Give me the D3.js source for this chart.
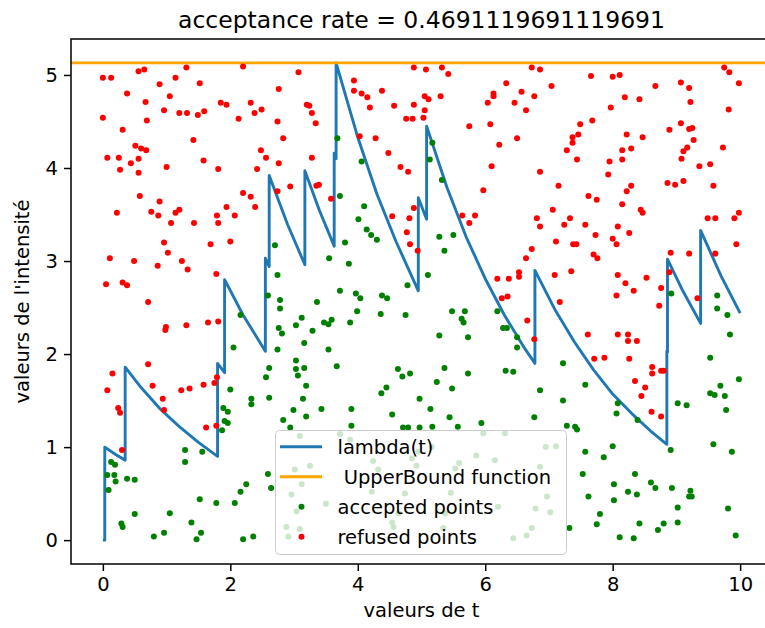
<!DOCTYPE html>
<html>
<head>
<meta charset="utf-8">
<script src="https://cdn.jsdelivr.net/npm/d3@7"></script>
<style>
  body { margin: 0; background: #fff; }
  text { font-family: "DejaVu Sans", sans-serif; fill: #000; }
</style>
</head>
<body>
<script>
// intensity lambda(t) (vertical jumps = repeated t)
var lamT = [0, 0.03, 0.03, 0.2, 0.35, 0.35, 0.6, 0.9, 1.2, 1.5, 1.8, 1.8, 1.91, 1.91, 2.2, 2.55, 2.55, 2.61, 2.61,
            2.9, 3.17, 3.17, 3.4, 3.63, 3.63, 3.66, 3.66, 4.0, 4.3, 4.6, 4.95, 4.95, 5.08, 5.08, 5.4, 5.7, 6.0,
            6.3, 6.6, 6.78, 6.78, 7.1, 7.4, 7.7, 8.0, 8.3, 8.6, 8.85, 8.85, 8.86, 8.86, 9.1, 9.38, 9.38, 9.7, 10];
var lamV = [0, 0, 1.0, 0.92, 0.86, 1.86, 1.64, 1.41, 1.22, 1.05, 0.90, 1.90, 1.80, 2.80, 2.42, 2.03, 3.03, 2.94, 3.92,
            3.39, 2.96, 3.97, 3.54, 3.16, 4.16, 4.10, 5.13, 4.33, 3.72, 3.21, 2.68, 3.68, 3.45, 4.45, 3.79, 3.26, 2.81,
            2.42, 2.08, 1.90, 2.90, 2.47, 2.13, 1.83, 1.57, 1.36, 1.17, 1.03, 2.03, 2.02, 3.02, 2.68, 2.33, 3.33, 2.84, 2.44];

var upperBound = 5.13;
var acceptanceRate = 0.4691119691119691;

var xTicks = [0, 2, 4, 6, 8, 10];
var yTicks = [0, 1, 2, 3, 4, 5];

// accepted points [t, value]
var acceptedPoints = [
  [3.68,4.32],[4.06,4.07],[3.72,3.70],[4.10,3.59],[4.01,3.45],
  [5.17,4.27],[5.13,4.09],[5.32,3.87],
  [2.16,2.42],[2.05,2.07],
  [2.70,3.17],[4.14,3.34],[4.21,3.28],[4.30,3.23],[3.80,3.20],[3.55,3.03],[3.86,2.97],[2.74,2.85],[4.78,2.74],
  [2.59,2.63],[3.72,2.68],[3.97,2.65],[4.04,2.60],[4.38,2.63],[4.46,2.60],[2.78,2.58],[2.78,2.49],[3.36,2.56],
  [3.99,2.46],[4.36,2.43],[4.75,2.42],[3.12,2.39],[3.03,2.31],[3.59,2.37],[3.47,2.34],[3.54,2.32],[3.88,2.34],
  [2.76,2.28],[2.81,2.22],[3.29,2.25],[3.16,2.12],[2.74,2.05],[3.54,2.05],[3.03,1.93],[3.03,1.84],[3.16,1.85],
  [3.06,1.77],[2.61,1.85],[2.56,1.75],[3.67,1.87],[4.63,1.84],[4.70,1.76],[4.82,1.79],[3.19,1.66],[4.45,1.64],
  [5.28,3.26],[5.50,3.28],[5.36,3.11],[5.10,2.85],[5.48,2.46],[5.68,2.46],[5.63,2.38],[5.66,2.34],[6.19,2.46],
  [5.28,2.20],[5.73,2.18],[6.28,2.28],[6.34,2.28],[6.50,2.18],[6.50,2.07],[5.36,1.85],[5.73,1.79],[6.32,1.82],
  [6.44,1.81],[7.22,1.90],[5.24,1.70],[5.48,1.63],[7.57,1.67],
  [8.92,2.65],[9.64,2.63],[9.64,2.49],[9.80,2.42],[9.84,2.21],[9.53,1.96],[9.69,1.66],[9.98,1.73],
  [2.00,1.62],[2.33,1.52],[2.33,1.46],[1.89,1.42],[1.96,1.38],[1.91,1.28],[1.96,1.26],[1.87,1.18],[1.29,0.97],
  [1.29,0.84],[1.56,0.95],[0.13,0.84],[0.19,0.81],[0.07,0.70],[0.18,0.70],[0.20,0.63],[0.38,0.66],[0.50,0.65],
  [0.09,0.54],[2.25,0.60],[2.16,0.52],[1.52,0.44],[1.78,0.40],[2.07,0.40],[0.50,0.28],[1.05,0.29],[0.29,0.18],
  [0.31,0.14],[1.39,0.19],[0.96,0.08],[0.80,0.04],[1.54,0.08],[1.47,0.01],[2.20,0.01],[2.36,0.04],
  [4.37,1.58],[2.61,1.53],[3.14,1.52],[4.97,1.52],[2.99,1.40],[3.43,1.41],[3.90,1.41],[3.19,1.33],[2.83,1.29],
  [4.54,1.35],[2.94,1.21],[3.90,1.23],[4.71,1.21],[4.79,1.21],[4.97,1.21],[2.59,0.71],[2.64,0.56],
  [3.09,1.12],[3.72,1.14],[3.88,1.08],[4.24,0.85],[4.32,0.76],[4.85,0.88],[4.92,0.80],[3.01,0.76],[3.25,0.80],
  [3.12,0.60],[2.96,0.49],[3.50,0.39],[3.04,0.31],[4.22,0.52],[4.74,0.50],[4.64,0.29],[4.54,0.19],[4.56,0.14],
  [2.88,0.14],[2.91,0.04],[3.09,0.12],[4.95,0.95],
  [6.86,1.61],[7.22,1.50],[5.14,1.41],[5.44,1.32],[5.94,1.26],[6.77,1.32],[5.17,1.22],[5.57,1.22],[7.28,1.23],
  [7.41,1.22],[7.44,1.19],[7.57,0.95],[7.53,0.71],[7.62,0.47],[7.32,0.13],
  [5.97,1.15],[6.31,1.15],[6.95,1.00],[7.11,1.01],[5.16,1.00],[5.86,0.91],[6.15,0.86],[5.59,0.83],[5.53,0.77],
  [6.86,0.79],[5.46,0.51],[6.97,0.47],[6.20,0.36],[6.79,0.34],[7.02,0.30],[5.37,0.29],[6.73,0.13],[6.65,0.05],
  [6.44,0.02],[5.34,0.13],
  [9.53,1.58],[9.60,1.56],[9.76,1.55],[9.02,1.47],[9.16,1.45],[9.78,1.40],[8.08,1.47],[8.06,1.36],[8.39,1.29],
  [8.91,0.97],[9.58,1.03],[9.87,0.95],[8.00,1.01],[7.86,0.89],[8.35,0.71],[8.02,0.60],[8.60,0.62],[8.67,0.56],
  [8.24,0.52],[8.38,0.49],[8.93,0.56],[9.22,0.53],[9.20,0.47],[9.24,0.47],[8.02,0.43],[9.02,0.35],[9.81,0.34],
  [7.80,0.28],[7.75,0.17],[8.42,0.18],[8.80,0.18],[8.71,0.11],[9.02,0.19],[8.11,0.03],[8.33,0.02],[9.93,0.05]
];

// refused points [t, value]
var refusedPoints = [
  [0.00,4.97],[0.13,4.97],[0.56,5.04],[0.65,5.06],[1.31,5.08],[2.20,5.09],[0.89,4.90],[1.14,4.97],[1.52,4.91],
  [0.38,4.80],[1.05,4.77],[0.67,4.71],[1.85,4.70],[1.94,4.68],[2.32,4.70],[0.00,4.54],[0.96,4.62],[1.20,4.59],
  [1.32,4.59],[1.49,4.57],[1.59,4.61],[0.69,4.51],[2.13,4.53],[2.38,4.59],[0.31,4.41],[1.42,4.30],[0.51,4.24],
  [0.60,4.21],[0.68,4.19],[0.07,4.11],[0.25,4.11],[0.56,4.10],[0.44,4.05],[0.27,3.98],[1.58,4.08],[1.00,4.01],
  [0.56,3.95],[1.81,3.99],[2.42,3.99],[0.58,3.70],[0.89,3.64],[0.22,3.52],[0.76,3.53],[0.87,3.49],[1.14,3.52],
  [1.20,3.55],[2.20,3.73],[2.32,3.69],[1.94,3.58],[1.79,3.49],[2.07,3.49],[2.39,3.58],
  [3.07,5.03],[4.88,5.08],[5.07,5.06],[2.76,4.85],[3.94,4.94],[3.94,4.83],[4.06,4.80],[4.15,4.76],[4.38,4.83],
  [2.49,4.63],[3.20,4.68],[3.24,4.67],[3.28,4.59],[3.34,4.48],[2.74,4.50],[4.19,4.65],[4.57,4.67],[4.88,4.68],
  [4.76,4.53],[4.86,4.53],[2.83,4.32],[4.03,4.34],[4.28,4.32],[2.48,4.19],[2.56,4.11],[2.76,4.05],[3.28,4.11],
  [4.48,4.16],[4.67,4.01],[4.79,3.96],[2.94,3.80],[2.74,3.75],[3.35,3.81],[3.39,3.82],[3.58,3.67],[4.88,3.57],
  [4.54,3.48],[4.81,3.46],
  [5.32,5.08],[5.42,5.01],[6.73,5.08],[6.86,5.06],[6.33,4.91],[7.04,4.88],[5.05,4.77],[5.11,4.74],[5.30,4.77],
  [6.13,4.80],[6.13,4.77],[6.57,4.82],[6.77,4.77],[6.04,4.70],[6.46,4.70],[6.64,4.62],[5.05,4.62],[5.03,4.54],
  [5.75,4.45],[6.08,4.47],[7.49,4.47],[6.22,4.25],[6.50,4.32],[7.37,4.33],[7.46,4.36],[7.37,4.27],[7.28,4.19],
  [7.44,4.09],[6.10,4.02],[6.86,3.96],[5.97,3.76],[7.15,3.81],[7.62,3.70],[7.06,3.55],[5.64,3.49],[5.84,3.49],
  [6.81,3.46],[7.33,3.46],
  [9.75,5.08],[9.83,5.03],[9.98,4.91],[7.66,4.99],[8.00,4.98],[8.11,5.00],[8.67,4.88],[9.07,4.92],[9.20,4.86],
  [8.19,4.76],[8.42,4.74],[9.22,4.71],[7.97,4.65],[9.82,4.63],[7.68,4.51],[9.07,4.48],[8.89,4.41],[9.20,4.42],
  [9.25,4.43],[8.22,4.36],[8.47,4.33],[9.27,4.30],[8.15,4.19],[8.29,4.21],[9.17,4.22],[9.11,4.18],[9.73,4.22],
  [7.95,4.07],[8.15,4.09],[9.08,4.10],[9.36,4.02],[9.53,4.04],[7.93,3.93],[8.86,3.84],[8.98,3.82],[9.11,3.86],
  [9.58,3.81],[8.29,3.81],[8.22,3.75],[7.75,3.66],[8.15,3.61],[8.44,3.55],[8.47,3.52],[9.98,3.52],[9.91,3.46],
  [9.49,3.46],[9.61,3.46],
  [1.07,3.41],[1.43,3.41],[1.81,3.41],[0.96,3.20],[1.69,3.18],[2.00,3.21],[0.11,3.03],[0.49,3.00],[1.02,3.09],
  [0.86,2.95],[1.24,3.00],[1.33,2.91],[1.78,2.86],[0.05,2.75],[0.31,2.77],[0.38,2.74],[0.71,2.56],[0.99,2.29],
  [0.98,2.26],[1.31,2.31],[1.65,2.34],[1.81,2.35],[0.71,1.89],[0.15,1.79],[0.78,1.66],[1.58,1.67],[1.75,1.69],
  [1.79,1.75],
  [4.77,3.31],[4.82,3.18],[4.94,3.11],
  [5.75,3.41],[6.86,3.37],[7.24,3.39],[7.57,3.39],[7.11,3.21],[7.38,3.18],[7.43,3.18],[6.73,3.13],[6.64,3.03],
  [6.53,2.88],[6.53,2.83],[6.19,2.81],[6.37,2.81],[7.09,2.85],[7.35,2.89],[6.26,2.60],[6.35,2.62],[7.17,2.56],
  [6.66,2.36],[6.77,2.16],[7.61,2.21],
  [8.08,3.37],[8.26,3.30],[7.73,3.28],[8.00,3.24],[8.06,3.18],[9.94,3.18],[7.70,3.07],[7.76,3.03],[8.91,3.09],
  [9.20,3.08],[9.61,3.08],[8.89,2.88],[8.08,2.85],[8.53,2.82],[8.20,2.76],[8.33,2.68],[8.76,2.71],[8.06,2.63],
  [9.33,2.60],[8.73,2.52],[8.08,2.21],[8.24,2.21],[8.24,2.14],[8.38,2.14],[7.71,1.95],[7.87,1.96],[8.26,1.95],
  [8.62,1.86],[8.62,1.79],[8.76,1.82],[8.80,1.82],[8.35,1.71],[8.51,1.64],
  [0.07,1.61],[1.23,1.61],[1.36,1.63],[0.94,1.52],[0.96,1.40],[0.24,1.42],[0.27,1.37],[1.62,1.21],[1.78,1.23],
  [0.30,0.97],
  [8.45,1.55],[8.61,1.38],[8.76,1.33]
];

var width = 765, height = 628;
var plotLeft = 71, plotRight = 772, plotTop = 39, plotBottom = 564;

var svg = d3.select('body').append('svg').attr('width', width).attr('height', height);

var x = d3.scaleLinear().domain([-0.5, 10.5]).range([plotLeft, plotRight]);
var y = d3.scaleLinear().domain([-0.2565, 5.3865]).range([plotBottom, plotTop]);

svg.append('clipPath').attr('id', 'plotclip').append('rect')
  .attr('x', plotLeft).attr('y', plotTop).attr('width', plotRight - plotLeft).attr('height', plotBottom - plotTop);

var plot = svg.append('g').attr('clip-path', 'url(#plotclip)');

var lamData = lamT.map(function(t, i){ return [t, lamV[i]]; });
var line = d3.line().x(function(d){ return x(d[0]); }).y(function(d){ return y(d[1]); });

plot.append('path').datum(lamData).attr('d', line)
  .attr('fill', 'none').attr('stroke', '#1f77b4').attr('stroke-width', 2.9)
  .attr('stroke-linejoin', 'round').attr('stroke-linecap', 'butt');

plot.append('line')
  .attr('x1', x(-0.5)).attr('x2', x(10.5)).attr('y1', y(upperBound)).attr('y2', y(upperBound))
  .attr('stroke', 'orange').attr('stroke-width', 2.9);

plot.selectAll('.acc').data(acceptedPoints).enter().append('circle')
  .attr('class', 'acc').attr('r', 3)
  .attr('cx', function(d){ return x(d[0]); }).attr('cy', function(d){ return y(d[1]); })
  .style('fill', 'green');

plot.selectAll('.ref').data(refusedPoints).enter().append('circle')
  .attr('class', 'ref').attr('r', 3)
  .attr('cx', function(d){ return x(d[0]); }).attr('cy', function(d){ return y(d[1]); })
  .style('fill', 'red');

// axes
var xAxis = d3.axisBottom(x).tickValues(xTicks).tickFormat(d3.format('d')).tickSize(7).tickPadding(6).tickSizeOuter(0);
var yAxis = d3.axisLeft(y).tickValues(yTicks).tickFormat(d3.format('d')).tickSize(7).tickPadding(6).tickSizeOuter(0);

var gx = svg.append('g').attr('transform', 'translate(0,' + plotBottom + ')').call(xAxis);
var gy = svg.append('g').attr('transform', 'translate(' + plotLeft + ',0)').call(yAxis);
[gx, gy].forEach(function(g){
  g.select('.domain').remove();
  g.selectAll('.tick line').attr('stroke', '#000').attr('stroke-width', 1.5);
  g.selectAll('.tick text').style('font-size', '19.5px').style('font-family', '"DejaVu Sans", sans-serif').attr('fill', '#000');
});

svg.append('rect')
  .attr('x', plotLeft).attr('y', plotTop).attr('width', plotRight - plotLeft).attr('height', plotBottom - plotTop)
  .attr('fill', 'none').attr('stroke', '#000').attr('stroke-width', 1.5);

// labels
svg.append('text').attr('x', (plotLeft + plotRight) / 2).attr('y', 28).attr('text-anchor', 'middle')
  .style('font-size', '23.5px').text('acceptance rate = ' + acceptanceRate);
svg.append('text').attr('x', (plotLeft + plotRight) / 2).attr('y', 617).attr('text-anchor', 'middle')
  .style('font-size', '19.5px').text('valeurs de t');
svg.append('text').attr('transform', 'translate(29,' + ((plotTop + plotBottom) / 2) + ') rotate(-90)')
  .attr('text-anchor', 'middle').style('font-size', '19.5px').text("valeurs de l'intensité");

// legend
var lg = svg.append('g');
lg.append('rect').attr('x', 275.5).attr('y', 430.5).attr('width', 291).attr('height', 124).attr('rx', 4)
  .attr('fill', '#fff').attr('fill-opacity', 0.8).attr('stroke', '#cccccc').attr('stroke-width', 1);

var legendItems = [
  {label: 'lambda(t)', kind: 'line', color: '#1f77b4'},
  {label: '\u00a0UpperBound function', kind: 'line', color: 'orange'},
  {label: 'accepted points', kind: 'dot', color: 'green'},
  {label: 'refused points', kind: 'dot', color: 'red'}
];
legendItems.forEach(function(it, i){
  var cy = 446.7 + i * 30;
  if (it.kind === 'line') {
    lg.append('line').attr('x1', 280).attr('x2', 322).attr('y1', cy).attr('y2', cy)
      .attr('stroke', it.color).attr('stroke-width', 2.9);
  } else {
    lg.append('circle').attr('cx', 301.5).attr('cy', cy).attr('r', 3).style('fill', it.color);
  }
  lg.append('text').attr('x', 337.5).attr('y', cy + 7).style('font-size', '19.5px').text(it.label);
});
</script>
</body>
</html>
